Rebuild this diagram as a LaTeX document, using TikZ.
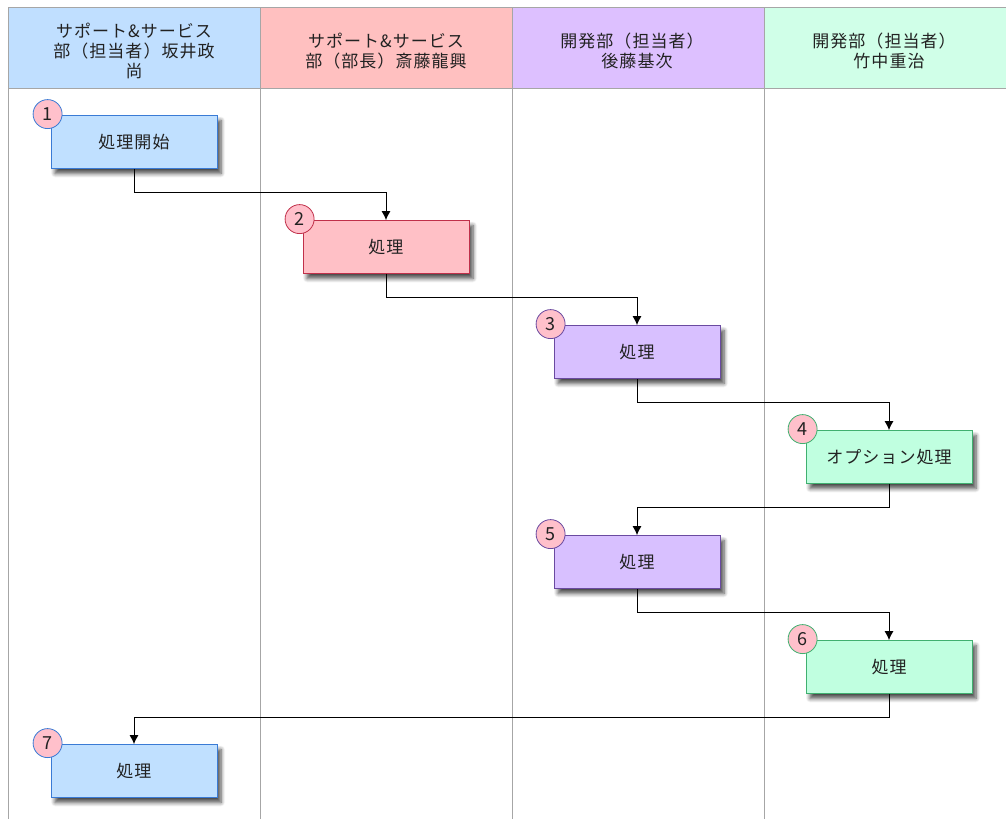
\documentclass[tikz,border=0pt]{standalone}
\usepackage{fontspec}
\setmainfont{Noto Sans CJK JP}[LetterSpace=6]
\usetikzlibrary{arrows.meta,shadows.blur}

\definecolor{hdrA}{HTML}{C0DFFF}
\definecolor{hdrB}{HTML}{FFC0C0}
\definecolor{hdrC}{HTML}{DDC0FF}
\definecolor{hdrD}{HTML}{D0FFE8}
\definecolor{boxA}{HTML}{C0E0FF}
\definecolor{boxB}{HTML}{FFC0C6}
\definecolor{boxC}{HTML}{D8C0FF}
\definecolor{boxD}{HTML}{C0FFE0}
\definecolor{lineA}{HTML}{3A7BD5}
\definecolor{lineB}{HTML}{C0304A}
\definecolor{lineC}{HTML}{6A4AA0}
\definecolor{lineD}{HTML}{40B070}
\definecolor{numfill}{HTML}{FFC0CB}
\definecolor{ink}{HTML}{222222}

\begin{document}
\begin{tikzpicture}[x=1pt, y=-1pt, font=\fontsize{17}{20}\selectfont, text=ink,
  hdr/.style={draw=gray!70, line width=0.8pt},
  lane/.style={draw=gray!70, line width=0.8pt},
  box/.style={draw, line width=0.8pt, minimum width=166pt, minimum height=53pt,
              inner sep=2pt,
              blur shadow={shadow xshift=4pt, shadow yshift=-5pt, shadow opacity=70,
                           shadow blur steps=6, shadow blur radius=4pt}},
  boxA/.style={box, fill=boxA, draw=lineA},
  boxB/.style={box, fill=boxB, draw=lineB},
  boxC/.style={box, fill=boxC, draw=lineC},
  boxD/.style={box, fill=boxD, draw=lineD},
  num/.style={circle, fill=numfill, draw=#1, line width=0.8pt, minimum size=29pt,
              inner sep=0pt, font=\fontsize{18}{18}\selectfont},
  arr/.style={-{Latex[length=9pt, width=9pt]}, line width=0.9pt, black}]
\useasboundingbox (0,0) rectangle (1006,819);

% ヘッダー
\fill[hdrA] (8,7) rectangle (260,88);
\fill[hdrB] (260,7) rectangle (512,88);
\fill[hdrC] (512,7) rectangle (764,88);
\fill[hdrD] (764,7) rectangle (1010,88);
\draw[hdr] (1010,7) -- (8,7) -- (8,88) -- (1010,88);
\foreach \x in {260,512,764}{
  \draw[lane] (\x,7) -- (\x,819);}
\draw[lane] (8,88) -- (8,819);

\node[align=center] (hA) at (134,51) {サポート\&サービス\\部（担当者）坂井政\\尚};
\node[align=center] (hB) at (386,51) {サポート\&サービス\\部（部長）斎藤龍興};
\node[align=center] (hC) at (632,51) {開発部（担当者）\\\hspace*{10pt}後藤基次};
\node[align=center] (hD) at (884,51) {開発部（担当者）\\\hspace*{10pt}竹中重治};

% 処理ボックス
\node[boxA] (p1) at (134,142) {処理開始};
\node[boxB] (p2) at (386,247) {処理};
\node[boxC] (p3) at (637,352) {処理};
\node[boxD] (p4) at (889,457) {オプション処理};
\node[boxC] (p5) at (637,562) {処理};
\node[boxD] (p6) at (889,667) {処理};
\node[boxA] (p7) at (134,771) {処理};

% 番号
\node[num=lineA] (n1) at ([xshift=-3pt, yshift=1pt]p1.north west) {1};
\node[num=lineB] (n2) at ([xshift=-3pt, yshift=1pt]p2.north west) {2};
\node[num=lineC] (n3) at ([xshift=-3pt, yshift=1pt]p3.north west) {3};
\node[num=lineD] (n4) at ([xshift=-3pt, yshift=1pt]p4.north west) {4};
\node[num=lineC] (n5) at ([xshift=-3pt, yshift=1pt]p5.north west) {5};
\node[num=lineD] (n6) at ([xshift=-3pt, yshift=1pt]p6.north west) {6};
\node[num=lineA] (n7) at ([xshift=-3pt, yshift=1pt]p7.north west) {7};

% 接続線
\draw[arr] (p1.south) -- ++(0,24) -| (p2.north);
\draw[arr] (p2.south) -- ++(0,24) -| (p3.north);
\draw[arr] (p3.south) -- ++(0,24) -| (p4.north);
\draw[arr] (p4.south) -- ++(0,24) -| (p5.north);
\draw[arr] (p5.south) -- ++(0,24) -| (p6.north);
\draw[arr] (p6.south) -- ++(0,24) -| (p7.north);
\end{tikzpicture}
\end{document}
